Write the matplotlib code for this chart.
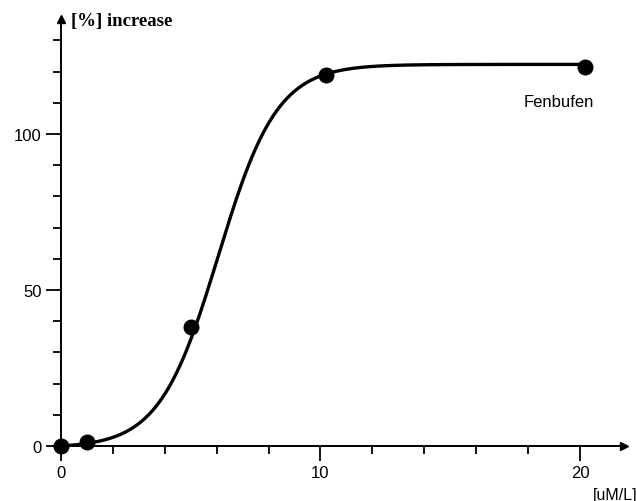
import numpy as np
import matplotlib
matplotlib.use("Agg")
import matplotlib.pyplot as plt

# data
conc = [0, 1, 5, 10.2, 20.2]          # uM/L
increase = [0, 1.3, 38, 119, 121.5]   # %
x_major = [0, 10, 20]
y_major = [0, 50, 100]
drug = "Fenbufen"

plt.rcParams['font.family'] = ['Liberation Sans', 'DejaVu Sans']

fig = plt.figure(figsize=(6.36, 5.02), dpi=100)
ax = fig.add_axes([0.055, 0.0785, 0.9426, 0.895])

# smooth sigmoid through the points (logistic fitted on the logit of the middle points)
top = max(increase) + 0.8
xs = np.array(conc, dtype=float)
ys = np.array(increase, dtype=float)
mid = (ys > 0) & (ys < max(increase))
k, b = np.polyfit(xs[mid], np.log(ys[mid] / (top - ys[mid])), 1)
xx = np.linspace(0, max(conc), 300)
f = 1 / (1 + np.exp(-(k * xx + b)))
f0 = 1 / (1 + np.exp(-b))
yy = top * (f - f0) / (1 - f0)
ax.plot(xx, yy, color='black', lw=2.4, solid_capstyle='round')
ax.plot(conc, increase, 'o', color='black', ms=10.5, clip_on=False)

ax.set_xlim(-1.0, 22.1)
ax.set_ylim(-5, 139)

for s in ['top', 'right']:
    ax.spines[s].set_visible(False)
ax.spines['left'].set_position(('data', 0))
ax.spines['bottom'].set_position(('data', 0))
ax.spines['left'].set_bounds(-3, 136)
ax.spines['bottom'].set_bounds(-0.3, 21.6)
ax.spines['left'].set_linewidth(1.4)
ax.spines['bottom'].set_linewidth(1.4)
ax.plot(0, 137, '^', color='black', ms=6, clip_on=False)
ax.plot(21.7, 0, '>', color='black', ms=6, clip_on=False)

ax.set_xticks(x_major)
ax.set_xticks(np.arange(0, 21, 2), minor=True)
ax.set_yticks(y_major)
ax.set_yticks(np.arange(0, 131, 10), minor=True)
ax.tick_params(which='major', direction='out', length=11, width=1.3, labelsize=12, pad=3)
ax.tick_params(which='minor', direction='out', length=6, width=1.3)

ax.text(0.4, 136.3, "[%] increase", family='Liberation Serif', fontsize=13.5,
        fontweight='bold', va='center', ha='left')
ax.text(19.2, 110.5, drug, fontsize=12, ha='center', va='center')
ax.text(22.2, -15.5, "[uM/L]", fontsize=11.5, ha='right', va='center', clip_on=False)

fig.savefig("out.png", dpi=100)
